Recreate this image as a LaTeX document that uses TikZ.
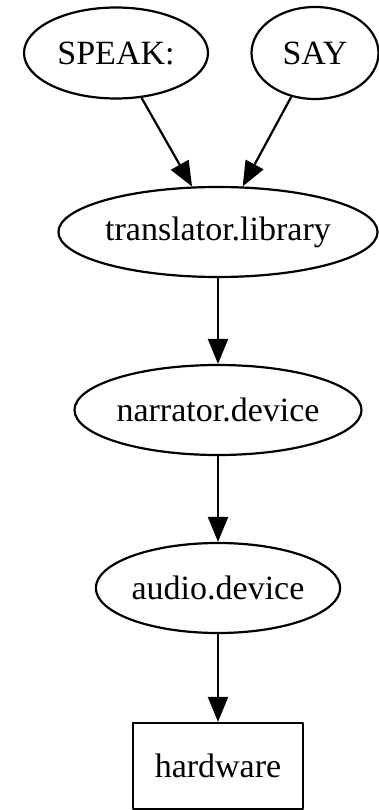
\documentclass[tikz,border=0pt]{standalone}
\usepackage{fontspec}
\setmainfont{Liberation Serif}
\usetikzlibrary{arrows.meta,shapes.geometric}
\begin{document}
\begin{tikzpicture}[x=1pt,y=1pt,>={Triangle[length=25pt,width=20pt]}, line width=2.2pt, line join=round,
	font=\fontsize{34}{40}\selectfont,
	oval/.style={draw,ellipse,inner sep=0pt},
	box/.style={draw,rectangle,inner sep=0pt}]
	\def\h{90} % chiều cao nút
	\useasboundingbox (0,0) rectangle (379,-810);
	\node[oval,minimum width=184,minimum height=91] (speak) at (116,-53) {SPEAK:};
	\node[oval,minimum width=127,minimum height=92] (say) at (315,-53) {SAY};
	\node[oval,minimum width=294,minimum height=\h] (translator) at (218,-232) {translator.library};
	\node[oval,minimum width=274,minimum height=\h] (narrator) at (218,-410) {narrator.device};
	\node[oval,minimum width=239,minimum height=\h] (audio) at (218,-588) {audio.device};
	\node[box,minimum width=170,minimum height=86] (hardware) at (218,-766) {hardware};
	\draw[->] (speak)--(translator);
	\draw[->] (say)--(translator);
	\draw[->] (translator)--(narrator);
	\draw[->] (narrator)--(audio);
	\draw[->] (audio)--(hardware);
\end{tikzpicture}
\end{document}
